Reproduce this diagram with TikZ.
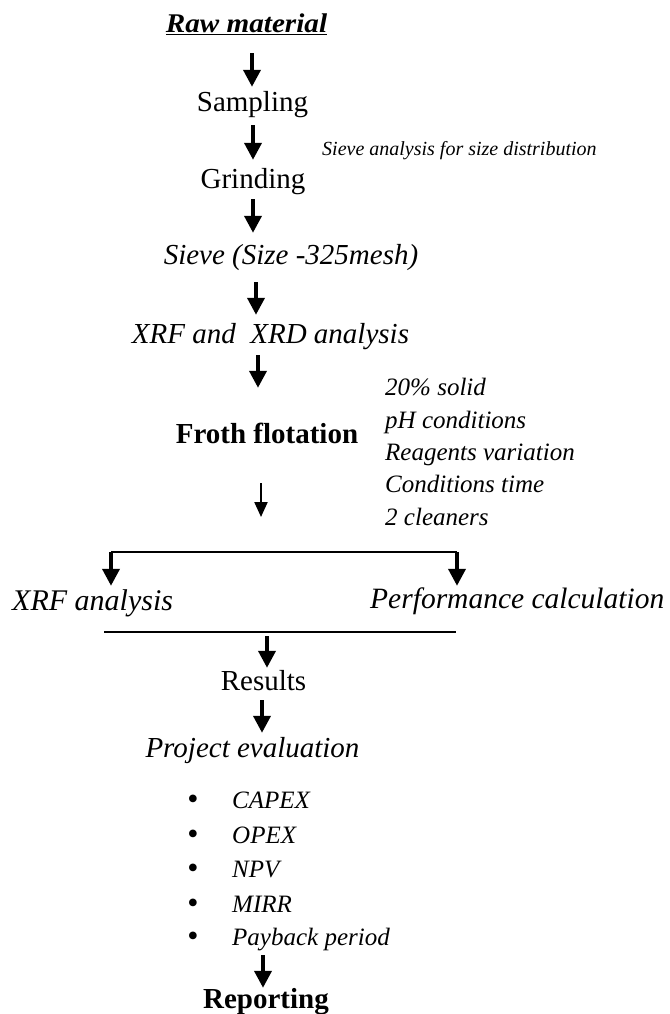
\documentclass[tikz,border=0pt]{standalone}
\usepackage{fontspec}
\setmainfont{Liberation Serif}
\usetikzlibrary{arrows.meta}
\begin{document}
\begin{tikzpicture}[x=1pt,y=-1pt,
  every node/.style={inner sep=0pt},
  big/.style={anchor=base, font=\fontsize{29}{34}\selectfont, text height=20pt, text depth=6pt},
  bigw/.style={big, anchor=base west},
  side/.style={anchor=base west, font=\fontsize{25}{30}\selectfont\itshape},
  note/.style={anchor=base west, font=\fontsize{20}{24}\selectfont\itshape},
  item/.style={anchor=base west, font=\fontsize{25}{30}\selectfont\itshape, text height=17pt, text depth=6pt},
  bul/.style={anchor=base, font=\fontsize{32}{36}\selectfont},
  arr/.style={line width=3.8pt, -{Triangle[width=17pt,length=17pt]}},
  tarr/.style={line width=2.2pt, -{Triangle[width=13pt,length=15pt]}},
  rule/.style={line width=1.6pt}
]
\useasboundingbox (0,0) rectangle (669,1014);

% axes of the arrows
\coordinate (ax1) at (252,0);
\coordinate (ax2) at (253,0);
\coordinate (ax4) at (256,0);
\coordinate (ax5) at (258,0);
\coordinate (ax6) at (261,0);
\coordinate (ax7) at (267,0);
\coordinate (ax8) at (262,0);
\coordinate (ax9) at (263,0);

% main steps
\node[anchor=base, font=\fontsize{27}{32}\selectfont\bfseries\itshape, text height=19pt, text depth=8pt] (raw) at (246.5,33) {\scalebox{1.08}[1]{\underline{Raw material}}};
\node[big] (samp) at (252.5,112) {Sampling};
\node[big] (grind) at (253,188) {Grinding};
\node[big, font=\fontsize{29}{34}\selectfont\itshape] (sieve) at (291,264) {Sieve (Size -325mesh)};
\node[big, font=\fontsize{29}{34}\selectfont\itshape] (xrf) at (270.5,343) {XRF and\ \ XRD analysis};
\node[big, font=\fontsize{29}{34}\selectfont\bfseries] (froth) at (267,443) {Froth flotation};
\node[bigw, font=\fontsize{30}{34}\selectfont\itshape] (xrfa) at (12,610) {XRF analysis};
\node[bigw, font=\fontsize{29.5}{34}\selectfont\itshape] (perf) at (370,608) {Performance calculation};
\node[big] (res) at (263.5,690) {Results};
\node[big, font=\fontsize{29}{34}\selectfont\itshape] (proj) at (252.5,757) {Project evaluation};
\node[big, font=\fontsize{29}{34}\selectfont\bfseries] (rep) at (266,1008) {Reporting};

% side notes
\node[note] (sievenote) at (322,155) {Sieve analysis for size distribution};
\node[side] (c1) at (385,395) {20\% solid};
\node[side] (c2) at (385,428) {pH conditions};
\node[side] (c3) at (385,460) {Reagents variation};
\node[side] (c4) at (385,492) {Conditions time};
\node[side] (c5) at (385,525) {2 cleaners};

% bullet list
\node[bul] (b1) at (193,809) {\textbullet};
\node[bul] (b2) at (193,844) {\textbullet};
\node[bul] (b3) at (193,878) {\textbullet};
\node[bul] (b4) at (193,913) {\textbullet};
\node[bul] (b5) at (193,946) {\textbullet};
\node[item] (capex) at (232,808) {CAPEX};
\node[item] (opex) at (232,843) {OPEX};
\node[item] (npv) at (232,877) {NPV};
\node[item] (mirr) at (232,912) {MIRR};
\node[item] (pay) at (232,945) {Payback period};

% branch and merge lines
\coordinate (fork) at (261,552);
\coordinate (bl) at (111,552);
\coordinate (br) at (457,552);
\coordinate (ml) at (104,632);
\coordinate (mr) at (456,632);
\coordinate (mj) at (267,632);

% arrows
\draw[arr, shorten <=12pt, shorten >=5pt] (raw.south -| ax1) -- (samp.north -| ax1);
\draw[arr, shorten <=7pt, shorten >=8pt] (samp.south -| ax2) -- (grind.north -| ax2);
\draw[arr, shorten <=5pt, shorten >=11pt] (grind.south -| ax2) -- (sieve.north -| ax2);
\draw[arr, shorten <=12pt, shorten >=8pt] (sieve.south -| ax4) -- (xrf.north -| ax4);
\draw[arr, shorten <=6pt, shorten >=35pt] (xrf.south -| ax5) -- (froth.north -| ax5);
\draw[tarr, shorten <=34pt, shorten >=35pt] (froth.south -| ax6) -- (fork);
\draw[rule] (bl) -- (br);
\draw[arr, shorten >=4pt] (bl) -- (xrfa.north -| bl);
\draw[arr, shorten >=2pt] (br) -- (perf.north -| br);
\draw[rule] (ml) -- (mr);
\draw[arr, shorten <=4pt, shorten >=2pt] (mj) -- (res.north -| ax7);
\draw[arr, shorten <=4pt, shorten >=4pt] (res.south -| ax8) -- (proj.north -| ax8);
\draw[arr, shorten <=4pt, shorten >=0pt] (pay.south -| ax9) -- (rep.north -| ax9);
\end{tikzpicture}
\end{document}
